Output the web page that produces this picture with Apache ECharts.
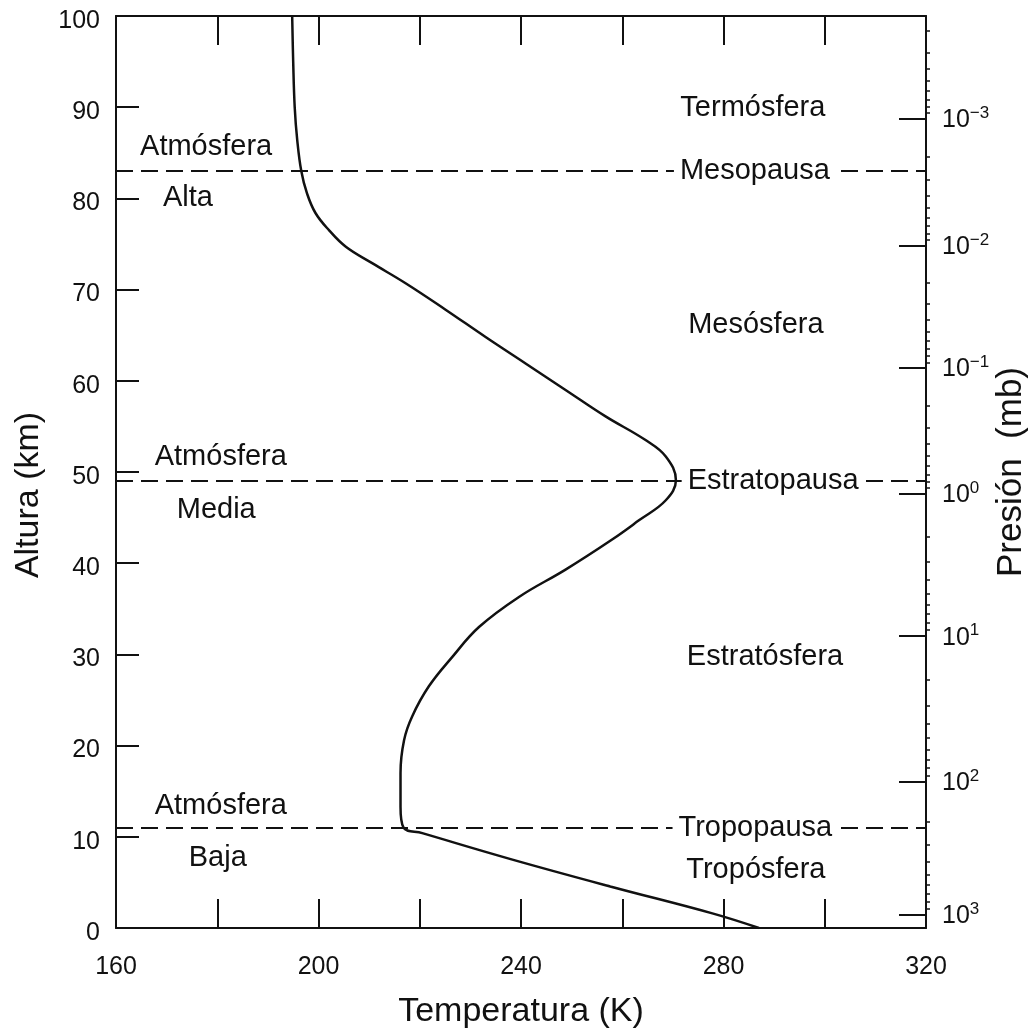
<!DOCTYPE html>
<html>
<head>
<meta charset="utf-8">
<title>Perfil de temperatura de la atmósfera</title>
<script src="https://cdn.jsdelivr.net/npm/echarts@6.0.0/dist/echarts.min.js"></script>
<style>
  html, body { margin: 0; padding: 0; background: #fff; }
  #chart { width: 1030px; height: 1030px; }
</style>
</head>
<body>
<div id="chart"></div>
<script>
// perfil de temperatura (K) vs altura (km)
const altura = [0, 1.6, 4.5, 7.5, 10.4, 11, 13.3, 17, 20.6, 23.2, 26.5, 29.7, 33, 36.3, 39.3, 42.6, 44.7, 46.9, 49.1, 51.7, 53.5, 56.1, 59, 61.9, 64.8, 67.8, 70.7, 72.9, 74.7, 76.5, 78.4, 80.6, 83, 86.4, 90, 95, 100];
const temperatura = [287, 277.8, 258, 238.3, 220.5, 216.8, 216.2, 216.2, 216.9, 218.5, 221.8, 226.4, 231.7, 239.6, 248.8, 258, 263.3, 268.6, 270.6, 268.6, 264.6, 256.7, 248.8, 240.9, 233, 225.1, 217.2, 210.6, 205.4, 202.1, 199.4, 197.7, 196.6, 195.8, 195.3, 195, 194.8];

// pausas (líneas de trazos)
const pausaNombres = ["Mesopausa", "Estratopausa", "Tropopausa"];
const pausaAlturas = [83, 49, 11];
const pausaTempEtiqueta = [286.2, 289.8, 286.3];

// capas
const capaNombres = ["Termósfera", "Mesósfera", "Estratósfera", "Tropósfera", "Atmósfera", "Alta", "Atmósfera", "Media", "Atmósfera", "Baja"];
const capaTemps = [285.8, 286.4, 288.2, 286.4, 177.8, 174.2, 180.7, 179.8, 180.7, 180.1];
const capaAlturas = [89.9, 66.1, 29.7, 6.4, 85.6, 80.0, 51.6, 45.8, 13.4, 7.7];

// eje de presión (mb): altura de cada potencia de 10
const presExp = [-3, -2, -1, 0, 1, 2, 3];
const presAltura = [88.7, 74.8, 61.4, 47.6, 32.0, 16.0, 1.5];

const xTicks = [160, 200, 240, 280, 320];

const FONT = "'Liberation Sans', Arial, Helvetica, sans-serif";
const INK = "#111";

// marcas menores del eje log (escala de presión, no datos)
const presMenores = [];
for (let i = -1; i < presAltura.length - 1; i++) {
  const a0 = i < 0 ? presAltura[0] + (presAltura[0] - presAltura[1]) : presAltura[i];
  const a1 = i < 0 ? presAltura[0] : presAltura[i + 1];
  for (let m = 2; m <= 9; m++) {
    const a = a0 + (a1 - a0) * Math.log10(m);
    if (a >= 0 && a <= 100) presMenores.push(+a.toFixed(2));
  }
}

const expTxt = (e) => (e < 0 ? "\u2212" + (-e) : String(e));

const chart = echarts.init(document.getElementById("chart"));

const axisLine = { show: true, onZero: false, lineStyle: { color: INK, width: 2 } };

const option = {
  animation: false,
  backgroundColor: "#fff",
  textStyle: { fontFamily: FONT },
  grid: { left: 116, right: 104, top: 16, bottom: 102, containLabel: false, outerBoundsMode: "none" },
  xAxis: [
    {
      type: "value", position: "bottom", min: 160, max: 320, interval: 20,
      name: "Temperatura (K)", nameLocation: "middle", nameGap: 67,
      nameTextStyle: { fontSize: 34, color: INK, fontFamily: FONT },
      axisLine,
      axisTick: { inside: true, length: 29, lineStyle: { color: INK, width: 2 } },
      axisLabel: {
        margin: 27, fontSize: 25, color: INK, fontFamily: FONT,
        formatter: (v) => (xTicks.includes(v) ? String(v) : "")
      },
      splitLine: { show: false }
    },
    {
      type: "value", position: "top", min: 160, max: 320, interval: 20,
      axisLine,
      axisTick: { inside: true, length: 29, lineStyle: { color: INK, width: 2 } },
      axisLabel: { show: false },
      splitLine: { show: false }
    }
  ],
  yAxis: [
    {
      type: "value", position: "left", min: 0, max: 100, interval: 10,
      name: "Altura (km)", nameLocation: "middle", nameGap: 70, nameRotate: 90,
      nameTextStyle: { fontSize: 34, color: INK, fontFamily: FONT, padding: [0, 46, 0, 0] },
      axisLine,
      axisTick: { inside: true, length: 23, lineStyle: { color: INK, width: 2 } },
      axisLabel: {
        margin: 16, color: INK, fontFamily: FONT,
        formatter: (v) => "{v|" + v + "}",
        rich: { v: { fontSize: 25, lineHeight: 28, color: INK, fontFamily: FONT, padding: [10, 0, 0, 0] } }
      },
      splitLine: { show: false }
    },
    {
      type: "value", position: "right", min: 0, max: 100,
      name: "Presión  (mb)", nameLocation: "middle", nameGap: 68, nameRotate: 90,
      nameMoveOverlap: false,
      nameTextStyle: { fontSize: 35, color: INK, fontFamily: FONT },
      axisLine,
      axisTick: { inside: true, length: 27, customValues: presAltura, lineStyle: { color: INK, width: 2 } },
      axisLabel: {
        margin: 16, color: INK, fontFamily: FONT,
        customValues: presAltura,
        formatter: (v) => {
          const i = presAltura.indexOf(v);
          return "{b|10}{s|" + expTxt(presExp[i]) + "}";
        },
        rich: {
          b: { fontSize: 25, lineHeight: 28, color: INK, fontFamily: FONT, verticalAlign: "bottom", padding: [8, 0, 0, 0] },
          s: { fontSize: 17, lineHeight: 18, color: INK, fontFamily: FONT, verticalAlign: "top" }
        }
      },
      splitLine: { show: false }
    },
    {
      type: "value", position: "right", min: 0, max: 100,
      axisLine: { show: false, onZero: false },
      axisTick: { inside: false, length: 4, customValues: presMenores, lineStyle: { color: INK, width: 1.5 } },
      axisLabel: { show: false },
      splitLine: { show: false }
    }
  ],
  series: [
    {
      name: "Temperatura",
      type: "line",
      xAxisIndex: 0, yAxisIndex: 0,
      data: altura.map((a, i) => [temperatura[i], a]),
      showSymbol: false,
      smooth: 0.4,
      lineStyle: { color: INK, width: 2.5 },
      markLine: {
        silent: true,
        symbol: "none",
        label: { show: false },
        lineStyle: { color: INK, width: 2, type: [17, 8] },
        data: pausaAlturas.map((a) => ({ yAxis: a }))
      },
      z: 3
    },
    {
      name: "pausas",
      type: "scatter",
      xAxisIndex: 0, yAxisIndex: 0,
      symbolSize: 0,
      itemStyle: { opacity: 1 },
      data: pausaNombres.map((n, i) => ({ name: n, value: [pausaTempEtiqueta[i], pausaAlturas[i]] })),
      label: {
        show: true, position: "inside", formatter: (p) => p.name,
        fontSize: 29, color: INK, fontFamily: FONT, opacity: 1,
        backgroundColor: "#fff", padding: [0, 6]
      },
      z: 5
    },
    {
      name: "capas",
      type: "scatter",
      xAxisIndex: 0, yAxisIndex: 0,
      symbolSize: 0,
      itemStyle: { opacity: 1 },
      data: capaNombres.map((n, i) => ({ name: n, value: [capaTemps[i], capaAlturas[i]] })),
      label: {
        show: true, position: "inside", formatter: (p) => p.name,
        fontSize: 29, color: INK, fontFamily: FONT, opacity: 1
      },
      z: 5
    }
  ]
};

chart.setOption(option);
</script>
</body>
</html>
